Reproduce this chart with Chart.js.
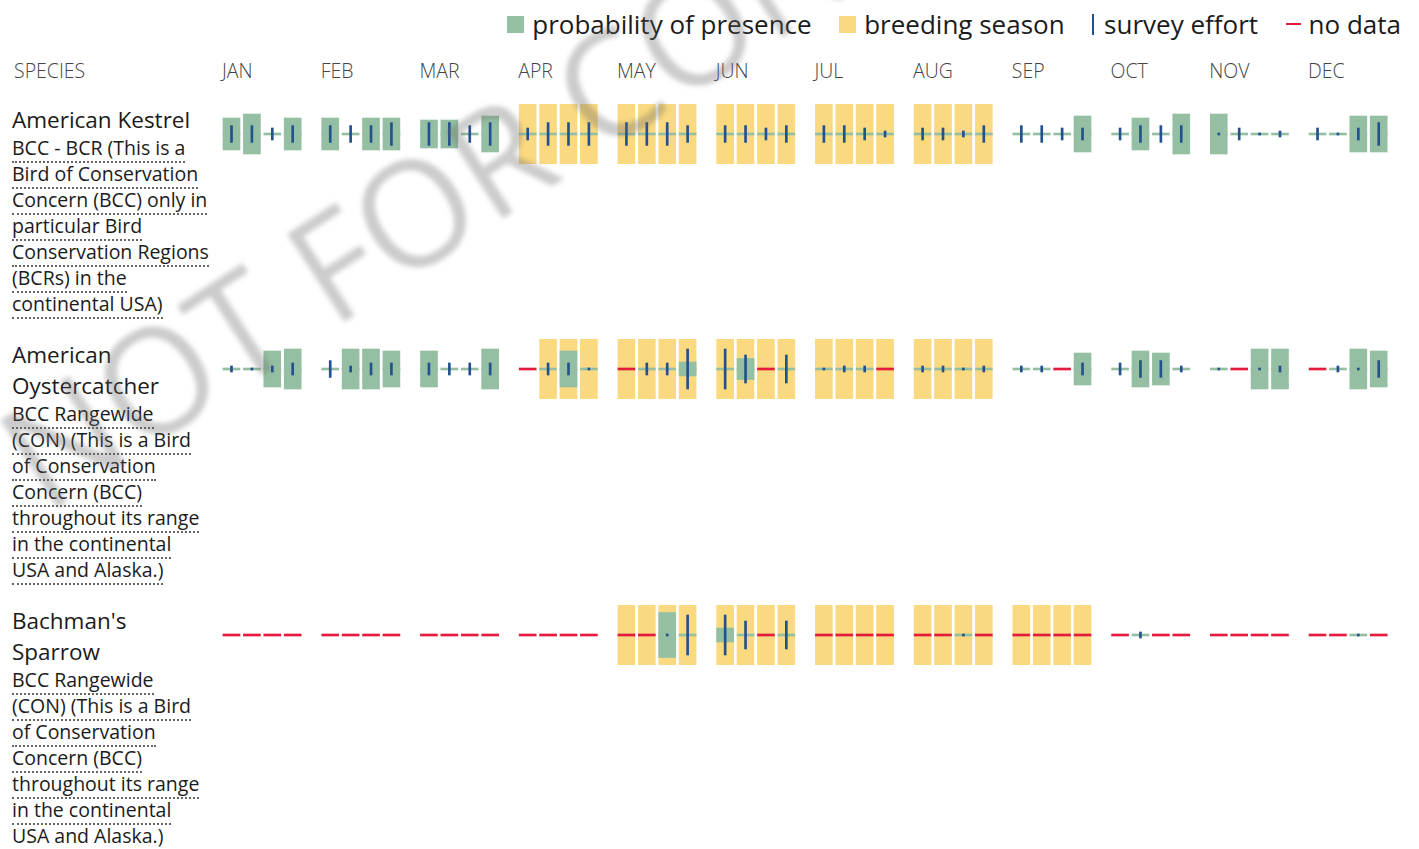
<!DOCTYPE html>
<html>
<head>
<meta charset="utf-8">
<title>Probability of presence</title>
<script src="https://cdn.jsdelivr.net/npm/chart.js@4.4.0/dist/chart.umd.min.js"></script>
<style>
  body { margin: 0; background: #fff; font-family: 'Open Sans', sans-serif; color: #1b1b1b; width: 1419px; height: 849px; overflow: hidden; position: relative; }
  #legend { position: absolute; top: 5px; right: 18px; display: flex; align-items: center; font-size: 26px; line-height: 38px; color: #1b1b1b; }
  .item { display: flex; align-items: center; margin-left: 27.5px; }
  .item:first-child { margin-left: 0; }
  .sw { display: inline-block; width: 17px; height: 17px; margin-right: 8px; }
  .sw.line { width: 2px; height: 21px; margin-right: 10px; }
  .sw.dash { width: 15px; height: 2px; margin-right: 8px; }
  #header { position: absolute; top: 57px; left: 0; width: 100%; height: 28px; font-size: 19.5px; line-height: 28px; font-weight: 300; color: #444; }
  #header span { position: absolute; top: 0; }
  #rows { position: absolute; top: 104px; left: 0; width: 100%; }
  .row { position: relative; margin-bottom: 22px; }
  .label { margin-left: 12px; white-space: nowrap; }
  .name { font-size: 22.5px; line-height: 31px; }
  .note { font-size: 19.5px; line-height: 26px; }
  .note span { border-bottom: 2px dotted #666; }
  .plot { position: absolute; left: 213px; top: 0; width: 1190px; height: 60px; }
  #mark { position: absolute; left: 55px; top: 384px; font-size: 146px; line-height: 146px; white-space: nowrap; color: rgba(100,100,100,0.33); filter: blur(2.5px); transform-origin: 0 100%; transform: rotate(-33deg); pointer-events: none; z-index: 10; }
</style>
</head>
<body>

<div id="legend">
  <div class="item"><span class="sw" style="background:#94bfa2"></span>probability of presence</div>
  <div class="item"><span class="sw" style="background:#fad980"></span>breeding season</div>
  <div class="item"><span class="sw line" style="background:#23508e"></span>survey effort</div>
  <div class="item"><span class="sw dash" style="background:#e31b3d"></span>no data</div>
</div>

<div id="header"><span style="left:14px">SPECIES</span></div>

<div id="rows">
  <div class="row">
    <div class="label">
      <div class="name">American Kestrel</div>
      <div class="note"><span>BCC - BCR (This is a<br>Bird of Conservation<br>Concern (BCC) only in<br>particular Bird<br>Conservation Regions<br>(BCRs) in the<br>continental USA)</span></div>
    </div>
    <div class="plot"><canvas id="kestrel"></canvas></div>
  </div>
  <div class="row">
    <div class="label">
      <div class="name">American<br>Oystercatcher</div>
      <div class="note"><span>BCC Rangewide<br>(CON) (This is a Bird<br>of Conservation<br>Concern (BCC)<br>throughout its range<br>in the continental<br>USA and Alaska.)</span></div>
    </div>
    <div class="plot"><canvas id="oystercatcher"></canvas></div>
  </div>
  <div class="row">
    <div class="label">
      <div class="name">Bachman's<br>Sparrow</div>
      <div class="note"><span>BCC Rangewide<br>(CON) (This is a Bird<br>of Conservation<br>Concern (BCC)<br>throughout its range<br>in the continental<br>USA and Alaska.)</span></div>
    </div>
    <div class="plot"><canvas id="sparrow"></canvas></div>
  </div>
</div>

<div id="mark">NOT FOR CONSULTATION</div>

<script>
const MONTHS = ['JAN', 'FEB', 'MAR', 'APR', 'MAY', 'JUN', 'JUL', 'AUG', 'SEP', 'OCT', 'NOV', 'DEC'];

// probability of presence per week (4 weeks a month), null = no data
const kestrelPresence = [
  8, 10, 0, 8,   8, 0, 8, 8,   7, 7, 0, 9,   0, 0, 0, 0,
  0, 0, 0, 0,    0, 0, 0, 0,   0, 0, 0, 0,   0, 0, 0, 0,
  0, 0, 0, 9,    0, 8, 0, 10,  10, 0, 0, 0,  0, 0, 9, 9
];
const kestrelEffort = [
  4.2, 4.2, 3, 4.2,   4.2, 4.2, 4.2, 5.7,   5.7, 5.7, 4.2, 5.7,   3, 5.7, 5.7, 5.7,
  5.7, 5.7, 5.7, 4.2, 4.2, 4.2, 3, 4.2,     4.2, 4.2, 3, 1.5,     3, 3, 1.5, 4.2,
  4.2, 4.2, 3, 3,     3, 4.2, 4.2, 4.2,     0.5, 3, 0.5, 1.5,     3, 0.5, 3, 5.7
];
const kestrelBreeding = ['APR', 'MAY', 'JUN', 'JUL', 'AUG'];
const kestrelBreedingFromWeek = 0;

const oysterPresence = [
  0, 0, 9, 10,      0, 10, 10, 9,    9, 0, 0, 10,      null, 0, 9, 0,
  null, 0, 0, 3.5,  0, 5.25, null, 0, 0, 0, 0, null,   0, 0, 0, 0,
  0, 0, null, 8,    0, 9, 8, 0,      0, null, 10, 10,  null, 0, 10, 9
];
const oysterEffort = [
  1.5, 0.5, 1.5, 3,   4.2, 1.5, 3, 3,    3, 3, 3, 3,          0, 3, 3, 0.5,
  0, 3, 3, 10,        10, 7, 0, 7,       0.5, 1.5, 1.5, 0,    1.5, 1.5, 0.5, 1.5,
  1.5, 1.5, 0, 3,     3, 4.2, 4.2, 1.5,  0.5, 0, 0.5, 1.5,    0, 1.5, 0.5, 4.2
];
const oysterBreeding = ['APR', 'MAY', 'JUN', 'JUL', 'AUG'];
const oysterBreedingFromWeek = 1;

const sparrowPresence = [
  null, null, null, null,   null, null, null, null,   null, null, null, null,   null, null, null, null,
  null, null, 11.25, 0,     3.5, 0, null, 0,          null, null, null, null,   null, null, 0, null,
  null, null, null, null,   null, 0, null, null,      null, null, null, null,   null, null, 0, null
];
const sparrowEffort = [
  0, 0, 0, 0,     0, 0, 0, 0,     0, 0, 0, 0,     0, 0, 0, 0,
  0, 0, 0.5, 10,  10, 7, 0, 7,    0, 0, 0, 0,     0, 0, 0.5, 0,
  0, 0, 0, 0,     0, 1.5, 0, 0,   0, 0, 0, 0,     0, 0, 0.5, 0
];
const sparrowBreeding = ['MAY', 'JUN', 'JUL', 'AUG', 'SEP'];
const sparrowBreedingFromWeek = 0;

const COLORS = { presence: '#94bfa2', breeding: '#fad980', effort: '#23508e', noData: '#e31b3d' };
const MONTH_SPAN = 4.84;   // month pitch in week units (gap between months)
const X_MIN = -0.907, X_MAX = 57.43;
const BAR = 17;

const $ = (id) => document.getElementById(id);
const weekPos = (i) => Math.floor(i / 4) * MONTH_SPAN + i % 4;

function breedingWeeks(months, fromWeek) {
  const weeks = [];
  months.forEach((m, k) => {
    const base = MONTHS.indexOf(m) * 4;
    for (let w = (k === 0 ? fromWeek : 0); w < 4; w++) weeks.push(base + w);
  });
  return weeks;
}

function barSet(label, data, color, order, thickness = BAR) {
  return { label, data, backgroundColor: color, borderWidth: 0, barThickness: thickness, grouped: false, order };
}

function renderRow(canvasId, presence, effort, breeding) {
  const datasets = [
    barSet('survey effort', effort.map((s, i) => s > 0 ? { x: weekPos(i), y: [-s, s] } : null).filter(Boolean), COLORS.effort, 0, 2),
    barSet('no data', presence.map((p, i) => p === null ? { x: weekPos(i), y: [-0.5, 0.5] } : null).filter(Boolean), COLORS.noData, 1),
    barSet('probability of presence', presence.map((p, i) => p > 0 ? { x: weekPos(i), y: [-p, p] } : null).filter(Boolean), COLORS.presence, 2),
    barSet('baseline', presence.map((p, i) => p !== null ? { x: weekPos(i), y: [-0.5, 0.5] } : null).filter(Boolean), COLORS.presence, 3),
    barSet('breeding season', breeding.map(i => ({ x: weekPos(i), y: [-15, 15] })), COLORS.breeding, 4)
  ];

  return new Chart($(canvasId), {
    type: 'bar',
    data: { datasets },
    options: {
      responsive: true,
      maintainAspectRatio: false,
      animation: false,
      layout: { padding: 0 },
      plugins: { legend: { display: false }, tooltip: { enabled: false } },
      scales: {
        x: { type: 'linear', min: X_MIN, max: X_MAX, display: false, offset: false },
        y: { min: -15, max: 15, display: false }
      }
    }
  });
}

const first = renderRow('kestrel', kestrelPresence, kestrelEffort, breedingWeeks(kestrelBreeding, kestrelBreedingFromWeek));
renderRow('oystercatcher', oysterPresence, oysterEffort, breedingWeeks(oysterBreeding, oysterBreedingFromWeek));
renderRow('sparrow', sparrowPresence, sparrowEffort, breedingWeeks(sparrowBreeding, sparrowBreedingFromWeek));

// month labels sit on the left edge of each month's first week
MONTHS.forEach((m, k) => {
  const span = document.createElement('span');
  span.textContent = m;
  span.style.left = `${213 + first.scales.x.getPixelForValue(weekPos(k * 4)) - BAR / 2 - 1}px`;
  $('header').appendChild(span);
});
</script>
</body>
</html>
